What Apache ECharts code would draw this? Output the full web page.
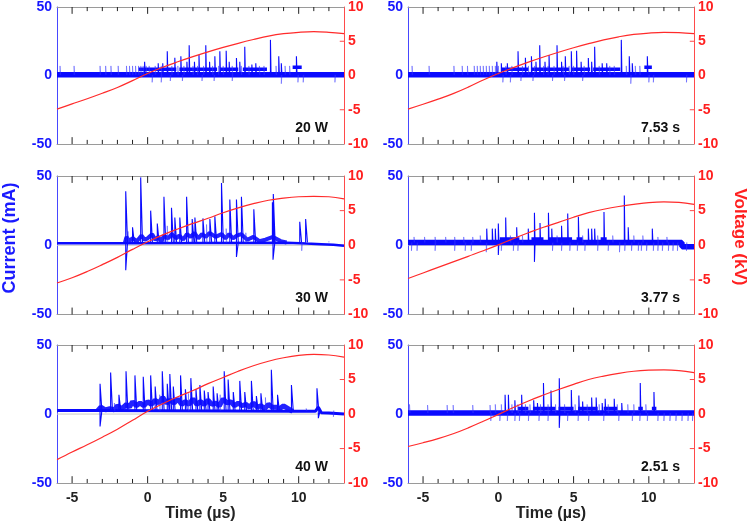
<!DOCTYPE html>
<html>
<head>
<meta charset="utf-8">
<script src="https://cdn.jsdelivr.net/npm/echarts@6/dist/echarts.min.js"></script>
<style>
html, body { margin: 0; padding: 0; background: #fff; }
#chart { width: 750px; height: 523px; }
</style>
</head>
<body>
<div id="chart"></div>
<script>
// time axis, µs
const timeMin = -6
const timeMax = 13
const timeLabels = [-5, 0, 5, 10]
const timeMinor = [-4, -3, -2, -1, 1, 2, 3, 4, 6, 7, 8, 9, 11, 12]
const voltTicks = [-5, 0, 5]

// voltage samples (kV), one per µs
const voltTime = [-6, -5, -4, -3, -2, -1, 0, 1, 2, 3, 4, 5, 6, 7, 8, 9, 10, 11, 12, 13]
const volt20W = [-4.9, -4.15, -3.4, -2.6, -1.75, -0.75, 0.3, 1.2, 2.0, 2.75, 3.45, 4.1, 4.7, 5.25, 5.75, 6.1, 6.3, 6.4, 6.3, 6.1]
const volt753s = [-4.9, -4.2, -3.45, -2.65, -1.7, -0.65, 0.3, 1.15, 1.95, 2.7, 3.4, 4.05, 4.65, 5.2, 5.65, 6.0, 6.2, 6.3, 6.25, 6.1]
const volt30W = [-5.45, -4.7, -3.8, -2.8, -1.75, -0.6, 0.5, 1.5, 2.35, 3.15, 3.9, 4.7, 5.4, 6.0, 6.5, 6.8, 7.0, 7.05, 7.0, 6.7]
const volt377s = [-4.8, -4.0, -3.2, -2.4, -1.6, -0.8, 0.05, 0.95, 1.8, 2.6, 3.3, 4.05, 4.7, 5.2, 5.6, 5.9, 6.15, 6.25, 6.2, 5.9]
const volt40W = [-6.6, -5.5, -4.45, -3.35, -2.2, -0.9, 0.4, 1.5, 2.5, 3.4, 4.4, 5.3, 6.2, 7.0, 7.65, 8.15, 8.5, 8.65, 8.55, 8.25]
const volt251s = [-4.7, -4.15, -3.55, -2.85, -2.0, -1.05, -0.05, 0.95, 1.9, 2.75, 3.55, 4.3, 5.0, 5.5, 5.9, 6.2, 6.35, 6.4, 6.3, 6.0]

// current (mA): baseline trace [t, i]
const base20W = [[-6, 0.5], [13, 0.5]]
const base753s = [[-6, 0.5], [13, 0.5]]
const base30W = [[-6, 1.5], [-1.5, 1.5], [9.2, 1.8], [10.5, 1.2], [11.5, 0.8], [12.3, 0.3], [13, -0.3]]
const base377s = [[-6, 2], [12.2, 2], [12.2, -1], [13, -1]]
const base40W = [[-6, 2.5], [-3.3, 2.5], [9.6, 2], [11.1, 2], [11.3, 5], [11.5, 1], [12, 0.8], [13, 0]]
const base251s = [[-6, 0.7], [13, 0.7]]

// raised level while discharging: [start, end, level] for quantised records
const steps20W = [[-0.6, 1.9, 4.5], [2.1, 4.6, 4.5], [4.8, 6.0, 4.5], [6.3, 7.9, 4.5], [9.6, 10.2, 6]]
const steps753s = [[0.2, 2.0, 4.5], [2.2, 4.7, 4.5], [4.9, 6.1, 4.5], [6.3, 8.1, 4.5], [9.7, 10.2, 6]]
const steps377s = [[0.1, 1.4, 4.5], [2.2, 3.0, 4.5], [3.3, 4.9, 4.5], [5.2, 5.6, 4.5], [6.8, 7.2, 4.5]]
const steps251s = [[1.3, 2.0, 4], [2.3, 3.8, 4], [4.0, 5.0, 4], [5.3, 6.6, 4], [7.0, 7.9, 4], [9.3, 9.6, 4], [10.2, 10.5, 4]]

// noisy raised trace for continuous records [t, i]
const noise30W = [[-1.5, 2], [-1.4, 6], [-1.2, 3], [-1.0, 5], [-0.7, 3], [-0.4, 7], [-0.2, 4], [0, 5], [0.3, 8], [0.5, 4], [0.7, 6], [0.9, 3], [1.1, 7], [1.35, 5], [1.6, 8], [1.9, 5], [2.1, 7], [2.35, 4], [2.6, 8], [2.85, 6], [3.1, 9], [3.35, 5], [3.6, 8], [3.85, 6], [4.1, 9], [4.5, 6], [4.9, 8], [5.15, 5], [5.4, 8], [5.65, 5], [5.9, 7], [6.2, 8], [6.6, 4], [7.0, 6], [7.4, 3], [7.8, 4], [8.3, 6], [8.8, 3], [9.2, 2]]
const noise40W = [[-3.3, 2.5], [-3.1, 5], [-2.8, 3], [-2.5, 4], [-2.2, 3], [-2, 6], [-1.7, 4], [-1.4, 7], [-1.2, 5], [-1, 9], [-0.75, 6], [-0.5, 8], [-0.25, 6], [0, 9], [0.25, 7], [0.5, 10], [0.75, 8], [1, 12], [1.25, 8], [1.5, 10], [1.75, 8], [2, 11], [2.25, 7], [2.5, 9], [2.75, 7], [3, 11], [3.25, 7], [3.5, 9], [3.75, 7], [4, 10], [4.25, 7], [4.5, 8], [4.75, 6], [5, 11], [5.25, 8], [5.5, 9], [5.75, 6], [6, 8], [6.25, 6], [6.5, 7], [6.75, 5], [7, 8], [7.25, 5], [7.5, 6], [7.75, 4], [8, 7], [8.25, 5], [8.5, 5], [8.75, 4], [9, 6], [9.3, 4], [9.6, 2]]

// discharge spikes [t, peak]
const spikes20W = [[-0.2, 10], [0.7, 9], [1.0, 9], [1.3, 17.7], [1.8, 13], [2.2, 14], [2.6, 10], [2.75, 22], [3.1, 10], [3.4, 15], [3.85, 22], [4.1, 10], [4.45, 14], [4.78, 17.7], [5.2, 18], [5.4, 10], [5.88, 12.8], [6.1, 10], [6.43, 21], [6.9, 8], [7.16, 9], [8.13, 26], [8.68, 14], [8.85, 9], [9.85, 14]]
const spikes753s = [[-0.1, 10], [0.2, 9], [0.6, 9], [1.31, 17.7], [1.8, 13], [2.2, 14], [2.5, 10], [2.75, 22], [3.1, 10], [3.37, 15], [3.9, 22], [4.2, 10], [4.45, 14], [4.85, 17.7], [5.2, 18], [5.5, 10], [5.98, 12.8], [6.2, 10], [6.4, 21], [6.9, 9], [7.2, 9], [8.17, 26], [8.7, 14], [8.9, 9], [9.9, 14]]
const spikes30W = [[-1.45, 39], [-1.45, -18], [-1.0, 13], [-0.46, 49], [0.2, 25], [0.64, 15.7], [1.08, 35], [1.58, 27], [1.8, 20], [2.13, 20], [2.58, 35], [2.95, 19], [3.13, 20], [3.66, 19.4], [4.12, 19], [4.45, 21], [4.89, 45], [5.44, 33], [5.88, 33], [5.88, -8.5], [6.21, 35], [7.03, 26], [8.26, 31], [8.32, 37], [8.3, -10.4], [10.07, 17], [10.46, 19]]
const spikes377s = [[-0.77, 12], [-0.4, 12], [-0.2, 12], [0, 15.7], [0.0, -7], [0.49, 20], [1.22, 13], [1.99, 12], [2.4, 23.4], [2.4, -12], [2.77, 16], [3.33, 23.4], [3.55, 12], [4.2, 14], [4.61, 23], [5.32, 20.5], [5.98, 12], [6.2, 12], [6.4, 12], [7.02, 24], [8.37, 36], [8.63, 13], [10.23, 12]]
const spikes40W = [[-3.15, 22], [-3.15, -9], [-2.45, 30], [-1.9, 14], [-1.43, 31], [-0.84, 28], [-0.29, 27], [0.2, 28], [0.5, 20], [0.97, 31], [1.3, 22], [1.47, 29], [1.7, 20], [2.18, 28], [2.5, 18], [2.86, 26], [3.2, 18], [3.46, 21], [3.75, 17], [4.0, 16], [4.34, 20], [4.6, 15], [5.07, 31], [5.33, 25], [5.67, 16], [6.1, 24], [6.43, 16], [6.87, 24], [7.2, 13], [7.5, 15], [8.19, 32], [8.6, 14], [9.52, 21], [11.21, 18.6], [11.3, -3]]
const spikes251s = [[0.45, 14], [0.67, 14], [1.1, 10], [1.55, 14], [2.35, 10], [2.6, 8], [3.0, 22.5], [3.5, 17], [4.05, 26], [4.05, -10], [4.85, 17.4], [5.35, 13.5], [5.6, 9], [6.2, 12], [6.5, 12], [6.9, 8], [7.1, 11], [7.7, 11], [8.2, 8], [9.43, 22.5], [10.34, 16]]

// faint single-step excursions [t, i]
const hairs20W = [[-5.8, 7], [-4.87, 7], [-3.15, 7], [-2.78, 7], [-2.43, 7], [-1.95, 7], [-1.4, 7], [-1.2, 7], [-1.0, 7], [-0.8, 7], [-0.6, 7], [-0.45, 7], [-0.3, 7], [-0.1, 7], [0.1, 7], [0.5, 7], [0.9, 7], [1.6, 7], [2.0, 7], [2.4, 7], [3.0, 7], [3.3, 7], [3.7, 7], [4.3, 7], [4.7, 7], [5.0, 7], [5.6, 7], [6.2, 7], [6.7, 7], [7.4, 7], [7.7, 7], [8.5, 7], [9.1, 7], [9.4, 7],
    [0.3, -5], [0.9, -5], [1.5, -4], [2.3, -4], [3.6, -4], [4.4, -4], [5.6, -4], [8.85, -6], [9.95, -5], [10.3, -5], [12.4, -5]]
const hairs753s = [[-5.73, 7], [-4.6, 7], [-2.95, 7], [-2.4, 7], [-2.05, 7], [-1.6, 7], [-1.4, 7], [-1.2, 7], [-1.0, 7], [-0.8, 7], [-0.6, 7], [-0.4, 7], [-0.2, 7], [0.0, 7], [0.5, 7], [0.9, 7], [1.6, 7], [2.0, 7], [2.4, 7], [3.0, 7], [3.3, 7], [3.7, 7], [4.3, 7], [4.7, 7], [5.0, 7], [5.7, 7], [6.2, 7], [6.7, 7], [7.4, 7], [7.7, 7], [8.5, 7], [9.1, 7], [9.4, 7],
    [0.3, -5], [0.8, -5], [1.5, -4], [2.3, -4], [3.6, -4], [4.4, -4], [5.6, -4], [8.8, -6], [10.0, -5], [10.3, -5], [12.5, -5]]
const hairs30W = [[-1.3, 10], [1.3, 14], [3.9, 15], [5.2, 12], [6.5, 9], [10.2, -4], [12.0, 3]]
const hairs377s = [[-5.6, 6], [-4.9, 6], [-4.2, 6], [-3.5, 6], [-2.9, 6], [-2.3, 6], [-1.7, 6], [-1.2, 7], [0.8, 7], [1.6, 7], [3.9, 7], [5.6, 7], [6.6, 7], [7.6, 7], [9.0, 7], [9.6, 7], [10.6, 6], [11.2, 6],
    [-5.77, -4], [-5.4, -4], [-4.2, -4], [-2.9, -4], [-2.2, -4], [-1.8, -4], [-0.8, -5], [0.2, -4], [1.0, -4], [1.3, -4], [3.6, -4], [4.2, -4], [4.75, -4], [5.25, -4], [5.75, -4], [6.6, -4], [7.3, -4], [8.05, -5], [8.4, -4], [8.85, -4], [9.3, -4], [9.5, -4], [9.85, -4], [10.3, -4], [10.6, -4], [10.9, -4], [11.3, -4], [11.6, -4], [11.9, -4], [12.5, -4]]
const hairs40W = [[-2.2, 8], [0.8, 14], [2.7, 15], [4.8, 14], [7.8, 12], [10.5, 4], [12.3, -2]]
const hairs251s = [[-5.9, 7], [-4.7, 6.5], [-3.4, 6.5], [-3.0, 6.5], [-1.7, 6.5], [-0.55, 6.5], [-0.2, 7], [0.2, 7], [0.9, 7], [1.3, 7], [1.8, 7], [2.1, 7], [2.8, 7], [3.3, 7], [3.8, 7], [4.4, 7], [5.1, 7], [5.9, 7], [6.7, 7], [7.3, 7], [7.9, 7], [8.6, 7], [9.0, 7], [9.8, 7],
    [-0.5, -5], [0.1, -5], [0.6, -5], [1.1, -5], [1.4, -5], [2.0, -5], [2.7, -5], [3.3, -5], [4.6, -5], [5.3, -5], [6.0, -5], [7.0, -5], [8.0, -5], [8.9, -5], [9.4, -5], [9.9, -5], [10.6, -5], [11.0, -5], [11.4, -5], [11.8, -5], [12.2, -5], [12.6, -5], [12.9, -5]]

const panelLabels = ['20 W', '7.53 s', '30 W', '3.77 s', '40 W', '2.51 s']

const panels = [
    {volt: volt20W, base: base20W, steps: steps20W, noise: [], spikes: spikes20W, hairs: hairs20W, foot: 0.5, baseWidth: 5.5, noiseWidth: 0, spikeWidth: 0.04},
    {volt: volt753s, base: base753s, steps: steps753s, noise: [], spikes: spikes753s, hairs: hairs753s, foot: 0.5, baseWidth: 5.5, noiseWidth: 0, spikeWidth: 0.04},
    {volt: volt30W, base: base30W, steps: [], noise: noise30W, spikes: spikes30W, hairs: hairs30W, foot: 2, baseWidth: 2.5, noiseWidth: 4, spikeWidth: 0.12},
    {volt: volt377s, base: base377s, steps: steps377s, noise: [], spikes: spikes377s, hairs: hairs377s, foot: 2, baseWidth: 5.5, noiseWidth: 0, spikeWidth: 0.04},
    {volt: volt40W, base: base40W, steps: [], noise: noise40W, spikes: spikes40W, hairs: hairs40W, foot: 2.5, baseWidth: 3, noiseWidth: 5, spikeWidth: 0.12},
    {volt: volt251s, base: base251s, steps: steps251s, noise: [], spikes: spikes251s, hairs: hairs251s, foot: 0.7, baseWidth: 5.5, noiseWidth: 0, spikeWidth: 0.04}
]

// layout
const colLeft = [57, 408]
const colWidth = [287, 286]
const rowTop = [5.5, 176, 345]
const rowHeight = 138.5
const FONT = 'Liberation Sans, Arial, Helvetica, sans-serif'
const BLUE = '#0a0aff'
const RED = '#ff2b2b'
const TICK = '#222'
// tick lengths in axis units (~4 px minor, ~7 px major)
const MINOR_LEN = 3
const MAJOR_LEN = 5
const VOLT_TICK_LEN = 0.28

// vertical strokes from foot to value, broken between strokes
function strokes (list, foot, w) {
    const out = []
    list.forEach(([t, v]) => {
        out.push([t, foot], [t, v], [t + w, foot], [t + w, '-'])
    })
    return out
}

function segments (list) {
    const out = []
    list.forEach(([a, b, lvl]) => {
        out.push([a, lvl], [b, lvl], [b, '-'])
    })
    return out
}

// inward tick marks on the top and bottom frame, drawn through the axis scales
function frameTicks (values, len) {
    const out = []
    values.forEach(t => {
        out.push([t, -50], [t, -50 + len], [t, '-'])
        out.push([t, 50], [t, 50 - len], [t, '-'])
    })
    return out
}

function rightTicks (values, len) {
    const out = []
    values.forEach(v => {
        out.push([timeMax - len, v], [timeMax, v], [timeMax, '-'])
    })
    return out
}

const grid = []
const xAxis = []
const yAxis = []
const series = []
const graphic = []

panels.forEach((p, i) => {
    const col = i % 2
    const row = Math.floor(i / 2)
    const rect = {left: colLeft[col], top: rowTop[row], width: colWidth[col], height: rowHeight}
    const isBottom = row === 2
    grid.push(Object.assign({}, rect))

    xAxis.push({
        gridIndex: i, type: 'value', min: timeMin, max: timeMax, interval: 1, position: 'bottom',
        splitLine: {show: false},
        axisLine: {onZero: false, lineStyle: {color: '#9a9a9a', width: 1}},
        axisTick: {show: false},
        axisLabel: {
            show: true, color: '#222', fontSize: 14, fontWeight: 'bold', fontFamily: FONT, margin: 8,
            formatter: v => (isBottom && timeLabels.indexOf(v) >= 0 ? String(v) : '')
        },
        name: isBottom ? 'Time (µs)' : '',
        nameLocation: 'middle',
        nameGap: 22,
        nameTextStyle: {color: '#222', fontSize: 16, fontWeight: 'bold', fontFamily: FONT}
    })
    xAxis.push({
        gridIndex: i, type: 'value', min: timeMin, max: timeMax, interval: 1, position: 'top',
        splitLine: {show: false},
        axisLine: {onZero: false, lineStyle: {color: '#9a9a9a', width: 1}},
        axisTick: {show: false},
        axisLabel: {show: false}
    })
    const xi = i * 2
    const yi = i * 2
    yAxis.push({
        gridIndex: i, type: 'value', min: -50, max: 50, interval: 50, position: 'left',
        axisLine: {show: true, onZero: false, lineStyle: {color: '#4848ff'}},
        axisTick: {show: false},
        splitLine: {show: false},
        axisLabel: {color: '#1616ff', fontSize: 14, fontWeight: 'bold', fontFamily: FONT, margin: 5}
    })
    yAxis.push({
        gridIndex: i, type: 'value', min: -10, max: 10, interval: 5, position: 'right',
        axisLine: {show: true, onZero: false, lineStyle: {color: '#ff4a4a'}},
        axisTick: {show: false},
        splitLine: {show: false},
        axisLabel: {color: '#ff2020', fontSize: 14, fontWeight: 'bold', fontFamily: FONT, margin: 4}
    })

    const common = {type: 'line', xAxisIndex: xi, yAxisIndex: yi, symbol: 'none', silent: true, animation: false}

    // zero reference
    series.push(Object.assign({}, common, {
        data: [[timeMin, 0], [timeMax, 0]], z: 1,
        lineStyle: {color: '#c8c8c8', width: 1}
    }))
    // frame ticks
    series.push(Object.assign({}, common, {
        data: frameTicks(timeMinor, MINOR_LEN), z: 1,
        lineStyle: {color: TICK, width: 1}
    }))
    series.push(Object.assign({}, common, {
        data: frameTicks(timeLabels, MAJOR_LEN), z: 1,
        lineStyle: {color: TICK, width: 1}
    }))
    series.push(Object.assign({}, common, {
        yAxisIndex: yi + 1, data: rightTicks(voltTicks, VOLT_TICK_LEN), z: 1,
        lineStyle: {color: '#ff4a4a', width: 1}
    }))
    series.push(Object.assign({}, common, {
        data: p.base, z: 2,
        lineStyle: {color: BLUE, width: p.baseWidth}
    }))
    series.push(Object.assign({}, common, {
        data: p.noise, z: 2,
        lineStyle: {color: BLUE, width: p.noiseWidth, opacity: 0.9}
    }))
    series.push(Object.assign({}, common, {
        data: segments(p.steps), z: 2,
        lineStyle: {color: BLUE, width: 3.5}
    }))
    series.push(Object.assign({}, common, {
        data: strokes(p.hairs, p.foot, 0.04), z: 3,
        lineStyle: {color: 'rgba(50,50,255,0.45)', width: 1}
    }))
    series.push(Object.assign({}, common, {
        data: strokes(p.spikes, p.foot, p.spikeWidth), z: 4,
        lineStyle: {color: BLUE, width: 1.1}
    }))
    series.push(Object.assign({}, common, {
        yAxisIndex: yi + 1, z: 5, smooth: 0.4,
        data: voltTime.map((t, k) => [t, p.volt[k]]),
        lineStyle: {color: RED, width: 1.2}
    }))

    graphic.push({
        type: 'text',
        right: 750 - (rect.left + rect.width) + (col === 0 ? 16 : 14),
        top: rect.top + rect.height - 23,
        style: {text: panelLabels[i], fill: '#111', font: 'bold 14px ' + FONT}
    })
})

graphic.push({
    type: 'text', x: 10, y: 238, rotation: Math.PI / 2,
    style: {text: 'Current (mA)', fill: '#1a1aff', font: 'bold 18px ' + FONT, align: 'center', verticalAlign: 'middle'}
})
graphic.push({
    type: 'text', x: 740, y: 237, rotation: -Math.PI / 2,
    style: {text: 'Voltage (kV)', fill: '#ff2020', font: 'bold 17px ' + FONT, align: 'center', verticalAlign: 'middle'}
})

const chart = echarts.init(document.getElementById('chart'), null, {renderer: 'canvas'})
chart.setOption({
    animation: false,
    backgroundColor: '#fff',
    textStyle: {fontFamily: FONT},
    grid: grid,
    xAxis: xAxis,
    yAxis: yAxis,
    series: series,
    graphic: graphic
})
</script>
</body>
</html>
